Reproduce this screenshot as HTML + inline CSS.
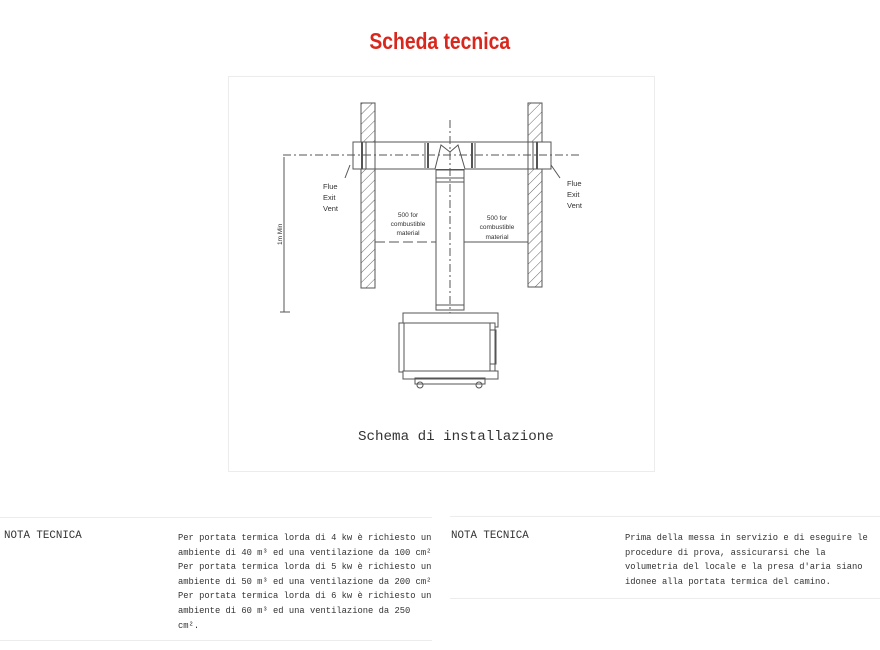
<!DOCTYPE html>
<html><head><meta charset="utf-8"><style>
body{margin:0;width:880px;height:650px;background:#fff;position:relative;overflow:hidden;font-family:"Liberation Mono",monospace;}
.t{position:absolute;left:0;width:880px;top:28px;text-align:center;}
.t span{display:inline-block;font-family:"Liberation Sans Narrow","Liberation Sans",sans-serif;font-weight:bold;font-size:23px;color:#d9271d;transform:scaleX(0.84);}
.box{position:absolute;left:228px;top:76px;width:427px;height:396px;border:1px solid #ececec;box-sizing:border-box}
.ln{position:absolute;height:1px;background:#ececec}
.tx{position:absolute;font-size:8.8px;line-height:14.6px;color:#333}
.lb{position:absolute;font-size:10.8px;color:#333;top:530px}
</style></head><body>
<div class="t"><span>Scheda tecnica</span></div>
<div class="box"></div>
<svg style="position:absolute;left:0;top:0" width="880" height="650">
<defs><pattern id="h" width="7" height="7" patternUnits="userSpaceOnUse" patternTransform="rotate(45)"><line x1="0" y1="0" x2="0" y2="7" stroke="#666" stroke-width="1"/></pattern></defs>
<g stroke="#555" stroke-width="1" fill="none">
<rect x="361" y="103" width="14" height="185" fill="url(#h)"/>
<rect x="528" y="103" width="14" height="184" fill="url(#h)"/>
<rect x="353" y="142" width="24" height="27" fill="#fff"/>
<rect x="527" y="142" width="24" height="27" fill="#fff"/>
<rect x="375" y="142" width="153" height="27" fill="#fff"/>
<line x1="362" y1="142" x2="362" y2="169" stroke-width="2"/>
<line x1="366" y1="142" x2="366" y2="169"/>
<line x1="537" y1="142" x2="537" y2="169" stroke-width="2"/>
<line x1="533" y1="142" x2="533" y2="169"/>
<line x1="425" y1="143" x2="425" y2="168"/><line x1="428" y1="143" x2="428" y2="168" stroke-width="2"/>
<line x1="472" y1="143" x2="472" y2="168" stroke-width="2"/><line x1="475" y1="143" x2="475" y2="168"/>
<path d="M435 169 L441 145 L450 152 L458 145 L465 169" fill="#fff"/>
<rect x="436" y="170" width="28" height="140" fill="#fff"/>
<line x1="436" y1="178" x2="464" y2="178"/><line x1="436" y1="182" x2="464" y2="182"/>
<line x1="436" y1="305" x2="464" y2="305"/>
<line x1="450" y1="120" x2="450" y2="330" stroke-dasharray="8 3 2 3"/>
<line x1="283" y1="155" x2="580" y2="155" stroke-dasharray="8 3 2 3"/>
<line x1="284" y1="157" x2="284" y2="312"/>
<line x1="280" y1="312" x2="290" y2="312"/>
<line x1="375" y1="242" x2="436" y2="242" stroke-dasharray="10 4"/>
<line x1="464" y1="242" x2="528" y2="242"/>
<rect x="403" y="313" width="95" height="14" fill="#fff"/>
<rect x="399" y="323" width="96" height="49" fill="#fff"/>
<rect x="404" y="323" width="86" height="49"/>
<rect x="490" y="330" width="6" height="34"/>
<rect x="403" y="371" width="95" height="8" fill="#fff"/>
<rect x="415" y="378" width="70" height="6"/>
<circle cx="420" cy="385" r="3"/><circle cx="479" cy="385" r="3"/>
<line x1="350" y1="165" x2="345" y2="178"/>
<line x1="551" y1="165" x2="560" y2="178"/>
</g>
<g font-family="Liberation Sans,sans-serif" font-size="7.5" fill="#333">
<text x="323" y="189">Flue</text><text x="323" y="200">Exit</text><text x="323" y="211">Vent</text>
<text x="567" y="186">Flue</text><text x="567" y="197">Exit</text><text x="567" y="208">Vent</text>
<text x="408" y="217" text-anchor="middle" font-size="6.5">500 for</text>
<text x="408" y="226" text-anchor="middle" font-size="6.5">combustible</text>
<text x="408" y="235" text-anchor="middle" font-size="6.5">material</text>
<text x="497" y="220" text-anchor="middle" font-size="6.5">500 for</text>
<text x="497" y="229" text-anchor="middle" font-size="6.5">combustible</text>
<text x="497" y="239" text-anchor="middle" font-size="6.5">material</text>
<text transform="translate(282,245) rotate(-90)" font-size="6.5">1m Min</text>
</g>
<text x="358" y="440" font-family="Liberation Mono,monospace" font-size="14.2" fill="#333">Schema di installazione</text>
</svg>
<div class="ln" style="left:0;top:517px;width:432px"></div>
<div class="ln" style="left:0;top:640px;width:432px"></div>
<div class="ln" style="left:450px;top:516px;width:430px"></div>
<div class="ln" style="left:450px;top:598px;width:430px"></div>
<div class="lb" style="left:4px">NOTA TECNICA</div>
<div class="tx" style="left:178px;top:531px;width:258px">Per portata termica lorda di 4 kw è richiesto un ambiente di 40 m³ ed una ventilazione da 100 cm²<br>Per portata termica lorda di 5 kw è richiesto un ambiente di 50 m³ ed una ventilazione da 200 cm²<br>Per portata termica lorda di 6 kw è richiesto un ambiente di 60 m³ ed una ventilazione da 250 cm².</div>
<div class="lb" style="left:451px">NOTA TECNICA</div>
<div class="tx" style="left:625px;top:531px;width:248px">Prima della messa in servizio e di eseguire le procedure di prova, assicurarsi che la volumetria del locale e la presa d'aria siano idonee alla portata termica del camino.</div>
</body></html>
